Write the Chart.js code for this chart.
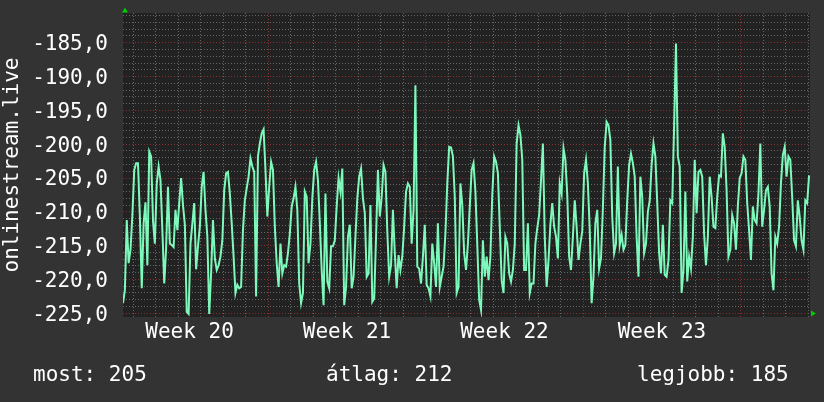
<!DOCTYPE html>
<html>
<head>
<meta charset="utf-8">
<title>onlinestream.live</title>
<script src="https://cdn.jsdelivr.net/npm/chart.js@4/dist/chart.umd.min.js"></script>
<style>
  html, body { margin: 0; padding: 0; background: #333333; }
  #wrap { position: relative; width: 824px; height: 402px; }
</style>
</head>
<body>
<div id="wrap"><canvas id="chart" width="824" height="402"></canvas></div>
<script>
// 2-hour samples
const values = [
  -223.5, -221.6, -211.2, -217.6, -215.6, -210.5, -203.8, -202.8, -202.8, -210.7,
  -221.3, -211.7, -208.6, -217.9, -201.1, -201.8, -211.3, -214.7, -205.8, -203.3,
  -205.3, -212.7, -220.6, -215.4, -206.3, -214.7, -214.9, -215.2, -209.7, -212.7,
  -208.7, -205.0, -209.0, -211.9, -224.8, -225.1, -214.7, -211.7, -208.7, -218.5,
  -215.1, -212.2, -206.3, -204.1, -209.7, -213.7, -225.1, -219.1, -211.2, -216.9,
  -218.6, -217.9, -216.6, -214.2, -206.8, -204.3, -204.1, -207.3, -211.7, -216.6,
  -222.0, -220.8, -221.3, -221.1, -212.7, -208.3, -206.5, -204.8, -202.1, -203.3,
  -204.1, -222.5, -201.8, -199.9, -198.4, -197.8, -203.8, -210.7, -206.3, -202.6,
  -203.8, -212.2, -217.6, -221.1, -214.7, -219.1, -217.9, -218.1, -216.1, -213.2,
  -209.2, -208.0, -206.3, -209.7, -220.6, -223.5, -222.0, -207.0, -207.8, -217.6,
  -214.7, -208.0, -203.8, -202.6, -205.3, -211.7, -218.6, -223.8, -207.3, -220.3,
  -221.3, -215.1, -215.1, -214.2, -209.2, -205.0, -207.0, -203.6, -223.8, -221.1,
  -213.7, -211.9, -221.3, -219.6, -213.7, -208.0, -204.8, -203.6, -208.0, -210.2,
  -219.6, -219.1, -209.0, -223.3, -222.8, -213.7, -203.8, -210.7, -207.8, -203.1,
  -204.1, -212.9, -219.6, -217.9, -209.7, -216.1, -221.3, -216.4, -218.6, -216.6,
  -212.2, -207.0, -205.8, -206.3, -214.7, -209.7, -191.3, -218.1, -218.4, -220.6,
  -216.6, -211.9, -220.8, -221.3, -222.5, -214.7, -217.6, -221.1, -211.7, -221.1,
  -219.6, -218.1, -213.2, -205.8, -200.4, -200.5, -201.8, -207.8, -222.0, -221.1,
  -205.8, -209.0, -216.1, -218.6, -214.7, -209.2, -203.8, -202.8, -207.0, -214.9,
  -223.0, -224.5, -214.2, -219.6, -216.6, -220.1, -216.6, -207.5, -201.8, -202.6,
  -204.3, -212.2, -220.1, -222.0, -213.7, -214.7, -219.1, -220.3, -218.6, -214.7,
  -199.9, -197.2, -198.6, -202.3, -218.6, -218.6, -211.7, -222.0, -220.6, -220.6,
  -214.7, -212.4, -210.5, -205.3, -199.9, -213.7, -221.1, -217.1, -211.9, -208.7,
  -212.2, -213.7, -216.9, -205.8, -207.3, -200.6, -202.3, -207.5, -216.6, -218.6,
  -213.7, -208.3, -212.2, -217.1, -214.7, -212.9, -204.3, -202.3, -205.8, -212.7,
  -223.5, -219.6, -211.7, -209.7, -218.4, -216.9, -209.5, -200.4, -196.7, -197.2,
  -199.4, -210.7, -216.1, -214.7, -203.3, -214.9, -213.4, -215.6, -214.9, -208.3,
  -203.1, -201.4, -202.8, -204.8, -213.7, -219.6, -204.8, -207.8, -216.1, -214.7,
  -210.0, -208.3, -203.1, -199.9, -201.8, -208.7, -216.1, -219.1, -211.9, -219.3,
  -219.6, -217.1, -208.3, -208.7, -197.4, -185.1, -201.8, -203.3, -222.0, -218.6,
  -207.0, -220.3, -216.6, -218.4, -213.7, -202.3, -210.2, -204.1, -203.8, -204.8,
  -213.2, -217.9, -213.7, -204.8, -207.8, -212.2, -212.4, -207.8, -204.6, -204.8,
  -198.4, -200.4, -206.8, -216.6, -215.6, -210.5, -211.7, -215.6, -209.2, -205.0,
  -204.3, -201.8, -202.3, -208.7, -212.7, -217.1, -209.2, -211.2, -211.7, -207.3,
  -199.9, -212.2, -209.7, -206.8, -206.3, -209.2, -219.1, -221.6, -213.7, -214.7,
  -212.2, -205.8, -201.6, -200.4, -204.8, -201.8, -202.3, -207.8, -214.2, -215.1,
  -208.3, -210.7, -214.2, -215.6, -208.3, -208.7, -204.6
];

// time axis in hours, 0 = start of week 21
const FIRST_HOUR = -155;
const STEP_HOURS = 2;
const X_MIN = -155;
const X_MAX = 578;

const weekLabels = ['Week 20', 'Week 21', 'Week 22', 'Week 23'];
const weekCenters = [-84, 84, 252, 420];

const Y_MIN = -225.55;
const Y_MAX = -180.6;
const yMajorTicks = [-225, -220, -215, -210, -205, -200, -195, -190, -185];

const summaryLabels = ['most', 'átlag', 'legjobb'];
const summaryValues = [205, 212, 185];

const FONT = "'DejaVu Sans Mono', monospace";
const GRID_GRAY = 'rgba(110, 110, 110, 0.9)';
const GRID_RED = 'rgba(140, 50, 50, 0.95)';

const points = values.map((v, i) => ({ x: FIRST_HOUR + i * STEP_HOURS, y: v }));

const rrdFrame = {
  id: 'rrdFrame',
  beforeDraw(chart) {
    const { ctx, chartArea: a } = chart;
    ctx.save();
    ctx.fillStyle = '#333333';
    ctx.fillRect(0, 0, chart.width, chart.height);
    ctx.fillStyle = '#222222';
    ctx.fillRect(a.left, a.top, a.right - a.left, a.bottom - a.top);
    ctx.restore();
  },
  afterDraw(chart) {
    const { ctx, chartArea: a } = chart;
    ctx.save();
    // axis arrows
    ctx.fillStyle = '#00cc00';
    ctx.beginPath();
    ctx.moveTo(a.left - 1, a.top - 0.5);
    ctx.lineTo(a.left + 5, a.top - 0.5);
    ctx.lineTo(a.left + 2, a.top - 5.5);
    ctx.closePath();
    ctx.fill();
    ctx.beginPath();
    ctx.moveTo(a.right + 1, a.bottom - 6.5);
    ctx.lineTo(a.right + 1, a.bottom - 0.5);
    ctx.lineTo(a.right + 6, a.bottom - 3.5);
    ctx.closePath();
    ctx.fill();

    // summary line
    ctx.fillStyle = '#ffffff';
    ctx.font = '21px ' + FONT;
    ctx.textBaseline = 'middle';
    const xs = [33, 326, 637];
    summaryLabels.forEach((label, i) => {
      ctx.fillText(label + ': ' + summaryValues[i], xs[i], 376);
    });
    ctx.restore();
  }
};

new Chart(document.getElementById('chart'), {
  type: 'line',
  data: {
    datasets: [{
      label: 'onlinestream.live',
      data: points,
      borderColor: '#7dfabb',
      borderWidth: 2,
      pointRadius: 0,
      tension: 0,
      fill: false
    }]
  },
  options: {
    responsive: false,
    animation: false,
    devicePixelRatio: 1,
    layout: { padding: { top: 13, right: 14, left: 0, bottom: 0 } },
    plugins: {
      legend: { display: false },
      tooltip: { enabled: false }
    },
    scales: {
      x: {
        type: 'linear',
        min: X_MIN,
        max: X_MAX,
        afterFit(scale) {
          scale.height = 85;
          scale.paddingLeft = 0;
          scale.paddingRight = 0;
        },
        afterBuildTicks(scale) {
          const ticks = [];
          for (let h = -144; h <= X_MAX; h += 24) ticks.push({ value: h });
          weekCenters.forEach(c => ticks.push({ value: c }));
          ticks.sort((p, q) => p.value - q.value);
          scale.ticks = ticks;
        },
        grid: {
          drawTicks: false,
          lineWidth: 1,
          color(ctx) {
            const v = ctx.tick ? ctx.tick.value : 0;
            if (v % 24 !== 0) return 'rgba(0,0,0,0)';
            return v % 168 === 0 ? GRID_RED : GRID_GRAY;
          }
        },
        border: { display: false, dash: [1, 2] },
        ticks: {
          autoSkip: false,
          maxRotation: 0,
          padding: 3,
          color: '#ffffff',
          font: { family: FONT, size: 21 },
          callback(value) {
            const idx = weekCenters.indexOf(value);
            return idx >= 0 ? weekLabels[idx] : '';
          }
        }
      },
      y: {
        min: Y_MIN,
        max: Y_MAX,
        afterFit(scale) {
          scale.width = 123;
          scale.paddingTop = 0;
          scale.paddingBottom = 0;
        },
        afterBuildTicks(scale) {
          const ticks = [];
          for (let v = yMajorTicks[0]; v <= -181; v += 1) ticks.push({ value: v });
          scale.ticks = ticks;
        },
        grid: {
          drawTicks: false,
          lineWidth: 1,
          color(ctx) {
            const v = ctx.tick ? ctx.tick.value : 0;
            return yMajorTicks.includes(v) ? GRID_RED : GRID_GRAY;
          }
        },
        border: { display: false, dash: [1, 2] },
        title: {
          display: true,
          text: 'onlinestream.live',
          color: '#ffffff',
          font: { family: FONT, size: 21 },
          padding: { top: 0, bottom: 0 }
        },
        ticks: {
          autoSkip: false,
          padding: 15,
          labelOffset: 2,
          color: '#ffffff',
          font: { family: FONT, size: 21 },
          callback(value) {
            return yMajorTicks.includes(value) ? value.toFixed(1).replace('.', ',') : '';
          }
        }
      }
    }
  },
  plugins: [rrdFrame]
});
</script>
</body>
</html>
